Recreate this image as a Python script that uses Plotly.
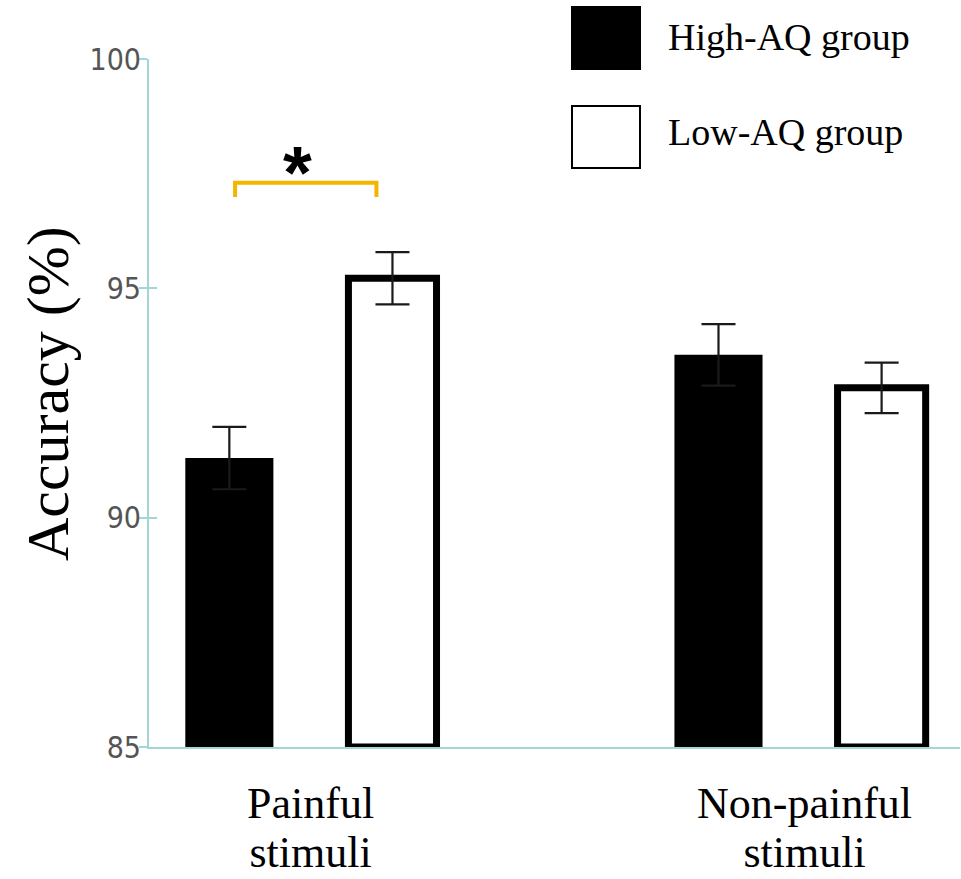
import plotly.graph_objects as go

# ---- data ----
categories = ["Painful\nstimuli", "Non-painful\nstimuli"]
groups = ["High-AQ group", "Low-AQ group"]
high_aq = [91.3, 93.55]
high_aq_err = [0.68, 0.67]
low_aq = [95.22, 92.83]
low_aq_err = [0.57, 0.55]
y_ticks = [85, 90, 95, 100]
sig_marker = "*"

# ---- geometry helpers (pixel -> paper) ----
W, H = 961, 879
L, R, T, B = 149, 1, 59, 132
PW, PH = W - L - R, H - T - B


def px(x):
    return (x - L) / PW


def py(y):
    return (H - B - y) / PH


AXIS = "#a3d6d8"
SERIF = "Liberation Serif, Times New Roman, serif"
NARROW = "Liberation Sans Narrow, Arial Narrow, DejaVu Sans Condensed, sans-serif"

cat_idx = list(range(len(categories)))

fig = go.Figure()
fig.add_trace(go.Bar(
    x=cat_idx, y=[v - 85 for v in high_aq], base=85, name=groups[0],
    marker=dict(color="black", line=dict(color="black", width=0)),
    error_y=dict(type="data", array=high_aq_err, color="#1a1a1a", thickness=2.2, width=17),
    showlegend=False,
))
fig.add_trace(go.Bar(
    x=cat_idx, y=[v - 85 for v in low_aq], base=85, name=groups[1],
    marker=dict(color="white", line=dict(color="black", width=7)),
    error_y=dict(type="data", array=low_aq_err, color="#1a1a1a", thickness=2.2, width=17),
    showlegend=False,
))

fig.update_layout(
    width=W, height=H,
    margin=dict(l=L, r=R, t=T, b=B),
    paper_bgcolor="white", plot_bgcolor="white",
    barmode="group", bargap=0.333, bargroupgap=0.46,
    xaxis=dict(
        type="linear", range=[-0.331, 1.327], showgrid=False, zeroline=False,
        showticklabels=False, ticks="", showline=True, linecolor=AXIS, linewidth=2,
    ),
    yaxis=dict(
        range=[85, 100], tickvals=y_ticks, showgrid=False, zeroline=False,
        showline=True, linecolor=AXIS, linewidth=2,
        ticks="outside", ticklen=8, tickwidth=2, tickcolor=AXIS,
        ticklabelstandoff=-8,
        tickfont=dict(family=NARROW, size=30, color="#555"),
    ),
    yaxis2=dict(
        overlaying="y", range=[85, 100], tickvals=y_ticks, showgrid=False,
        zeroline=False, showline=False, showticklabels=False,
        ticks="inside", ticklen=8, tickwidth=2, tickcolor=AXIS,
    ),
    showlegend=False,
)
# invisible trace to activate yaxis2 (inner half of the crossing ticks)
fig.add_trace(go.Scatter(x=[0], y=[85], yaxis="y2", mode="markers",
                         marker=dict(opacity=0), hoverinfo="skip", showlegend=False))

annotations = []
# y-axis title
annotations.append(dict(
    text="Accuracy (%)", textangle=-90, xref="paper", yref="paper",
    x=px(48), y=py(394), xanchor="center", yanchor="middle", showarrow=False,
    font=dict(family=SERIF, size=60, color="black"),
))
# category labels: two tightly spaced lines (line spacing set by the base
# font size, glyph size by the inner span)
for i, cat in enumerate(categories):
    label = "<br>".join(
        "<span style='font-size:44px'>" + line + "</span>" for line in cat.split("\n")
    )
    annotations.append(dict(
        text=label, xref="x", yref="paper", x=i, y=py(828),
        xshift=4 * i, borderpad=0,
        xanchor="center", yanchor="middle", showarrow=False,
        font=dict(family=SERIF, size=38, color="black"),
    ))
# legend
shapes = []
legend_fill = ["black", "white"]
legend_top = [7, 106]
legend_text_y = [37, 132]
for k, g in enumerate(groups):
    y0 = legend_top[k]
    shapes.append(dict(
        type="rect", xref="paper", yref="paper",
        x0=px(572), x1=px(640), y0=py(y0 + 62), y1=py(y0),
        fillcolor=legend_fill[k], line=dict(color="black", width=2),
    ))
    annotations.append(dict(
        text=g, xref="paper", yref="paper", x=px(666), y=py(legend_text_y[k]),
        xanchor="left", yanchor="middle", showarrow=False,
        font=dict(family=SERIF, size=38, color="black"),
    ))
# significance bracket between the two Painful bars
shapes.append(dict(
    type="path", xref="x", yref="y",
    path="M -0.155,96.99 L -0.155,97.3 L 0.134,97.3 L 0.134,96.99",
    line=dict(color="#f5b400", width=4),
))
annotations.append(dict(
    text="<b>" + sig_marker + "</b>", xref="x", yref="y", x=-0.027, y=97.3, yshift=-33,
    xanchor="center", yanchor="bottom", showarrow=False,
    font=dict(family="Liberation Sans, Arial, sans-serif", size=74, color="black"),
))

fig.update_layout(annotations=annotations, shapes=shapes)
fig.write_html("out.html", config={"displayModeBar": False},
               post_script="document.body.style.margin='0';")
